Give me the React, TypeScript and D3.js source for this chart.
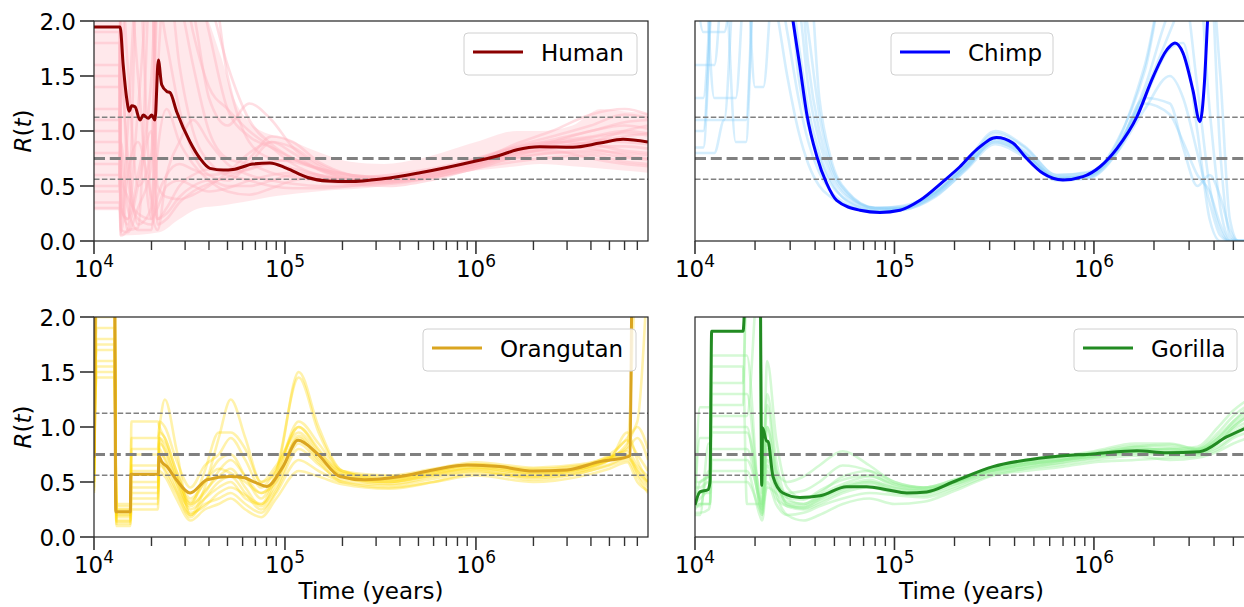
import React from 'react';
import * as d3 from 'd3';

// ---------- Data (years, R(t)) ----------
const humanMainT = [10000, 13700, 14220, 14820, 15300, 15750, 16400, 17410, 18130, 19250, 20050, 20860, 21720, 22620, 24040, 25000, 27100, 31850, 35910, 40470, 47540, 53430, 67980, 83400, 102300, 130300, 165900, 218800, 326000, 509000, 1e6, 1.336e6, 1.64e6, 2.16e6, 3.22e6, 4.46e6, 5.89e6, 7.96e6];
const humanMainR = [1.945, 1.945, 1.6, 1.3, 1.18, 1.23, 1.22, 1.1, 1.145, 1.115, 1.145, 1.1, 1.645, 1.42, 1.36, 1.35, 1.175, 0.9, 0.75, 0.66, 0.645, 0.65, 0.7, 0.71, 0.66, 0.58, 0.545, 0.54, 0.565, 0.62, 0.727, 0.78, 0.83, 0.857, 0.853, 0.89, 0.925, 0.9];
const humanBandT = [10000, 13500, 13700, 22000, 28000, 36000, 45700, 54000, 68000, 83000, 102000, 130000, 166000, 220000, 330000, 510000, 1e6, 1.64e6, 2.16e6, 3.2e6, 4.5e6, 5.9e6, 7.96e6];
const humanBandLo = [0.28, 0.28, 0.05, 0.08, 0.2, 0.3, 0.32, 0.34, 0.37, 0.4, 0.42, 0.44, 0.46, 0.47, 0.5, 0.55, 0.64, 0.68, 0.7, 0.68, 0.66, 0.64, 0.62];
const humanBandHi = [2.0, 2.0, 2.1, 2.1, 2.1, 2.1, 1.7, 1.3, 1.05, 0.97, 0.93, 0.85, 0.78, 0.72, 0.7, 0.75, 0.9, 1.0, 1.0, 1.05, 1.2, 1.18, 1.16];
const humanGridT = [10000, 13600, 13800, 15000, 17000, 20000, 21500, 24000, 28000, 33000, 40000, 50000, 65000, 85000, 110000, 150000, 220000, 350000, 600000, 1e6, 1.6e6, 2.5e6, 4e6, 6e6, 7.96e6];
const humanSamples = [
  [1.6, 1.6, 0.3, 0.2, 0.6, 1.5, 2.5, 2.5, 2.2, 1.6, 1.0, 0.75, 0.7, 0.62, 0.58, 0.55, 0.52, 0.55, 0.62, 0.7, 0.78, 0.85, 0.9, 0.95, 0.98],
  [0.9, 0.9, 1.2, 2.5, 2.5, 0.3, 0.1, 0.6, 0.9, 1.1, 0.9, 0.7, 0.6, 0.55, 0.52, 0.5, 0.5, 0.53, 0.6, 0.68, 0.75, 0.8, 0.82, 0.8, 0.78],
  [1.2, 1.2, 0.1, 0.08, 0.3, 0.7, 2.5, 2.5, 2.5, 2.5, 1.9, 1.2, 0.95, 0.85, 0.75, 0.65, 0.58, 0.6, 0.66, 0.75, 0.86, 0.95, 1.05, 1.15, 1.12],
  [0.5, 0.5, 2.5, 2.5, 1.5, 0.2, 0.3, 0.5, 0.55, 0.5, 0.45, 0.48, 0.55, 0.6, 0.62, 0.6, 0.56, 0.55, 0.6, 0.7, 0.8, 0.82, 0.75, 0.7, 0.68],
  [1.8, 1.8, 0.6, 0.4, 0.25, 0.2, 2.2, 1.8, 1.2, 0.8, 0.6, 0.55, 0.7, 0.9, 0.85, 0.7, 0.6, 0.58, 0.64, 0.72, 0.82, 0.88, 0.92, 0.9, 0.88],
  [0.35, 0.35, 0.2, 1.0, 2.5, 2.5, 0.5, 0.4, 0.38, 0.42, 0.5, 0.62, 0.8, 0.9, 0.8, 0.65, 0.55, 0.52, 0.58, 0.68, 0.8, 0.9, 1.0, 1.05, 1.02],
  [1.4, 1.4, 2.5, 2.5, 2.5, 2.5, 2.5, 2.5, 2.5, 2.1, 1.3, 1.05, 1.25, 1.1, 0.85, 0.68, 0.58, 0.56, 0.62, 0.73, 0.85, 0.9, 0.88, 0.82, 0.8],
  [0.7, 0.7, 0.05, 0.1, 0.5, 1.0, 0.2, 0.3, 0.5, 0.6, 0.65, 0.6, 0.55, 0.5, 0.48, 0.48, 0.5, 0.55, 0.63, 0.74, 0.84, 0.86, 0.9, 1.0, 1.05],
  [1.0, 1.0, 1.5, 0.8, 0.15, 0.3, 1.5, 2.5, 2.5, 2.5, 2.5, 1.5, 0.9, 0.75, 0.72, 0.66, 0.6, 0.57, 0.6, 0.72, 0.88, 1.0, 1.15, 1.2, 1.15],
  [0.6, 0.6, 0.9, 0.3, 0.1, 0.1, 0.8, 1.2, 0.9, 0.7, 0.55, 0.45, 0.42, 0.48, 0.55, 0.58, 0.56, 0.54, 0.58, 0.66, 0.76, 0.8, 0.8, 0.76, 0.74],
  [1.9, 1.9, 0.4, 0.15, 2.5, 2.5, 2.5, 2.5, 2.5, 1.9, 1.4, 1.2, 1.0, 0.85, 0.7, 0.6, 0.55, 0.56, 0.62, 0.72, 0.84, 0.92, 1.0, 1.08, 1.1],
  [0.45, 0.45, 1.8, 0.6, 0.2, 0.15, 0.4, 0.6, 0.7, 0.65, 0.6, 0.62, 0.75, 0.95, 0.9, 0.72, 0.6, 0.55, 0.6, 0.7, 0.8, 0.86, 0.84, 0.78, 0.75],
  [1.5, 1.5, 0.9, 0.1, 0.12, 2.5, 2.5, 2.5, 2.5, 2.5, 2.2, 1.6, 1.1, 0.88, 0.75, 0.66, 0.6, 0.58, 0.62, 0.7, 0.82, 0.9, 0.95, 1.0, 0.98],
  [0.3, 0.3, 0.08, 0.6, 0.9, 0.4, 0.2, 0.25, 0.4, 0.5, 0.55, 0.5, 0.5, 0.55, 0.6, 0.58, 0.52, 0.5, 0.56, 0.66, 0.72, 0.76, 0.78, 0.72, 0.7],
  [1.1, 1.1, 2.5, 1.6, 0.5, 0.8, 2.5, 2.5, 1.6, 1.0, 0.72, 0.62, 0.65, 0.72, 0.74, 0.66, 0.56, 0.55, 0.6, 0.7, 0.82, 0.88, 0.94, 0.98, 0.96],
  [0.8, 0.8, 0.3, 0.2, 1.2, 2.5, 0.15, 0.2, 0.35, 0.45, 0.52, 0.58, 0.66, 0.7, 0.66, 0.6, 0.54, 0.53, 0.58, 0.68, 0.78, 0.84, 0.86, 0.86, 0.84],
];

const chimpMainT = [28000, 31000, 33600, 36300, 40800, 45700, 51300, 67100, 84600, 106600, 134300, 175100, 212800, 258000, 325000, 392400, 460000, 555000, 699000, 881000, 1.072e6, 1.303e6, 1.643e6, 1.977e6, 2.324e6, 2.548e6, 2.794e6, 3.136e6, 3.398e6, 3.58e6, 3.71e6, 3.85e6];
const chimpMainR = [2.6, 2.0, 1.58, 1.16, 0.77, 0.525, 0.37, 0.28, 0.26, 0.28, 0.37, 0.54, 0.675, 0.83, 0.94, 0.89, 0.75, 0.615, 0.555, 0.585, 0.675, 0.84, 1.13, 1.49, 1.74, 1.8, 1.71, 1.37, 1.085, 1.44, 2.0, 2.6];
const chimpGridT = [10000, 11000, 12500, 14000, 16000, 18000, 20000, 22000, 25000, 29000, 33000, 37000, 42000, 48000, 58000, 80000, 110000, 160000, 230000, 320000, 450000, 650000, 950000, 1.3e6, 1.8e6, 2.4e6, 2.8e6, 3.3e6, 3.8e6, 4.3e6, 4.8e6, 5.3e6, 6e6];
const chimpSamples = [
  [1.6, 1.6, 1.6, 2.5, 2.5, 2.5, 2.5, 2.5, 2.5, 2.5, 1.8, 1.2, 0.8, 0.55, 0.36, 0.28, 0.3, 0.45, 0.7, 0.95, 0.8, 0.58, 0.6, 0.85, 1.4, 2.1, 2.3, 1.4, 0.5, 0.1, 0, 0, 0],
  [1.0, 1.0, 2.5, 2.5, 0.9, 0.9, 2.5, 2.5, 2.5, 2.5, 2.5, 1.6, 1.0, 0.65, 0.42, 0.3, 0.3, 0.42, 0.68, 0.9, 0.78, 0.56, 0.58, 0.8, 1.2, 1.5, 1.3, 0.8, 0.35, 0.05, 0, 0, 0],
  [2.5, 2.5, 1.3, 1.3, 1.3, 2.5, 2.5, 2.5, 2.5, 1.9, 1.3, 0.9, 0.62, 0.45, 0.33, 0.26, 0.28, 0.4, 0.66, 0.92, 0.82, 0.57, 0.6, 0.9, 1.55, 2.5, 2.5, 2.5, 1.2, 0.3, 0.02, 0, 0],
  [0.8, 0.8, 0.8, 1.1, 1.1, 1.1, 2.5, 2.5, 2.5, 2.5, 2.2, 1.4, 0.9, 0.6, 0.4, 0.3, 0.31, 0.44, 0.7, 0.98, 0.85, 0.6, 0.62, 0.82, 1.25, 1.15, 0.9, 0.6, 0.45, 0.15, 0, 0, 0],
  [1.3, 1.3, 2.5, 2.5, 2.5, 2.5, 1.4, 1.4, 2.5, 2.5, 2.5, 2.5, 1.3, 0.75, 0.45, 0.3, 0.29, 0.41, 0.65, 0.88, 0.76, 0.55, 0.57, 0.8, 1.3, 1.75, 1.8, 1.0, 0.2, 0, 0, 0, 0],
  [2.5, 1.9, 1.9, 1.9, 2.5, 2.5, 2.5, 2.5, 2.2, 1.5, 1.0, 0.7, 0.5, 0.4, 0.32, 0.27, 0.29, 0.43, 0.72, 1.0, 0.86, 0.6, 0.63, 0.88, 1.6, 2.5, 2.5, 2.5, 2.5, 0.8, 0.05, 0, 0],
  [1.1, 1.1, 1.1, 1.1, 2.5, 2.5, 2.5, 2.5, 2.5, 2.5, 1.5, 1.05, 0.75, 0.52, 0.37, 0.28, 0.3, 0.44, 0.69, 0.93, 0.8, 0.58, 0.6, 0.82, 1.3, 1.25, 0.85, 0.5, 0.6, 0.4, 0.1, 0, 0],
  [0.85, 0.85, 2.5, 2.5, 2.5, 2.5, 2.5, 2.5, 2.5, 2.5, 2.5, 1.9, 1.15, 0.7, 0.44, 0.3, 0.32, 0.44, 0.67, 0.9, 0.79, 0.57, 0.59, 0.84, 1.35, 1.9, 2.2, 2.5, 2.5, 1.5, 0.2, 0, 0],
];

const orangMainT = [10000, 10250, 12800, 13000, 15500, 15600, 21700, 21900, 22700, 24100, 27000, 31840, 39080, 51550, 60260, 71330, 80470, 97670, 117000, 147200, 194200, 260000, 400000, 596000, 897000, 1.336e6, 1.99e6, 2.99e6, 4.46e6, 6.25e6, 6.4e6, 6.6e6, 7.96e6];
const orangMainR = [0.72, 2.5, 2.5, 0.23, 0.23, 0.57, 0.57, 0.73, 0.68, 0.64, 0.52, 0.4, 0.52, 0.55, 0.54, 0.49, 0.46, 0.64, 0.88, 0.76, 0.55, 0.52, 0.55, 0.61, 0.655, 0.64, 0.6, 0.61, 0.685, 0.73, 0.74, 2.5, 2.5];
const orangGridT = [10000, 10300, 12800, 13100, 15500, 15700, 21600, 22000, 23500, 27000, 32000, 38000, 45000, 52000, 62000, 75000, 90000, 118000, 150000, 200000, 350000, 600000, 1e6, 2e6, 3.5e6, 5e6, 6.2e6, 7e6, 7.96e6];
const orangSamples = [
  [0.5, 2.5, 2.5, 0.12, 0.12, 0.9, 0.9, 1.0, 1.25, 0.8, 0.2, 0.45, 0.9, 1.25, 0.9, 0.5, 0.6, 1.5, 1.0, 0.6, 0.52, 0.58, 0.62, 0.55, 0.6, 0.7, 0.85, 1.0, 0.8],
  [0.6, 1.8, 1.8, 0.2, 0.2, 0.35, 0.35, 0.9, 0.85, 0.55, 0.25, 0.35, 0.45, 0.5, 0.35, 0.3, 0.55, 1.0, 0.8, 0.55, 0.48, 0.55, 0.6, 0.52, 0.58, 0.65, 0.7, 0.55, 0.4],
  [0.4, 1.6, 1.6, 0.25, 0.25, 0.6, 0.6, 0.8, 0.7, 0.5, 0.3, 0.6, 0.95, 0.95, 0.8, 0.5, 0.65, 0.95, 0.75, 0.58, 0.55, 0.6, 0.66, 0.62, 0.65, 0.75, 0.9, 1.05, 2.5],
  [0.7, 2.0, 2.0, 0.15, 0.15, 0.45, 0.45, 0.7, 0.6, 0.4, 0.2, 0.3, 0.35, 0.4, 0.3, 0.22, 0.4, 0.7, 0.6, 0.5, 0.45, 0.5, 0.56, 0.5, 0.55, 0.62, 0.68, 0.5, 0.42],
  [0.55, 1.5, 1.5, 0.3, 0.3, 1.05, 1.05, 1.0, 0.9, 0.6, 0.35, 0.5, 0.7, 0.75, 0.55, 0.35, 0.6, 1.45, 0.95, 0.6, 0.53, 0.6, 0.65, 0.58, 0.63, 0.72, 0.8, 0.9, 0.7],
  [0.45, 2.5, 2.5, 0.18, 0.18, 0.75, 0.75, 0.75, 0.72, 0.45, 0.28, 0.42, 0.55, 0.62, 0.45, 0.28, 0.5, 0.9, 0.7, 0.55, 0.5, 0.57, 0.63, 0.57, 0.6, 0.7, 0.75, 0.6, 0.5],
  [0.9, 1.7, 1.7, 0.1, 0.1, 0.25, 0.25, 0.6, 0.55, 0.35, 0.15, 0.25, 0.3, 0.35, 0.25, 0.18, 0.35, 0.6, 0.55, 0.48, 0.44, 0.5, 0.58, 0.55, 0.62, 0.7, 0.95, 0.7, 0.5],
  [0.5, 1.9, 1.9, 0.22, 0.22, 0.5, 0.5, 1.05, 1.0, 0.7, 0.45, 0.65, 0.75, 0.9, 0.7, 0.45, 0.62, 1.0, 0.78, 0.6, 0.56, 0.62, 0.68, 0.63, 0.66, 0.73, 0.82, 2.5, 2.5],
  [0.65, 1.45, 1.45, 0.28, 0.28, 0.8, 0.8, 0.95, 0.9, 0.6, 0.3, 0.4, 0.6, 0.7, 0.55, 0.4, 0.55, 1.05, 0.85, 0.58, 0.5, 0.58, 0.64, 0.6, 0.62, 0.72, 0.78, 0.65, 0.55],
  [0.42, 2.2, 2.2, 0.14, 0.14, 0.3, 0.3, 0.85, 0.8, 0.5, 0.22, 0.28, 0.4, 0.45, 0.38, 0.3, 0.45, 0.85, 0.68, 0.5, 0.47, 0.53, 0.6, 0.54, 0.58, 0.66, 0.72, 0.62, 0.48],
  [0.8, 1.75, 1.75, 0.25, 0.25, 0.65, 0.65, 0.9, 0.78, 0.55, 0.32, 0.5, 0.62, 0.58, 0.5, 0.4, 0.5, 0.92, 0.72, 0.56, 0.52, 0.6, 0.66, 0.6, 0.64, 0.72, 0.88, 0.75, 0.6],
  [0.5, 1.55, 1.55, 0.2, 0.2, 0.4, 0.4, 0.65, 0.62, 0.42, 0.18, 0.35, 0.5, 0.55, 0.4, 0.25, 0.42, 0.8, 0.66, 0.52, 0.5, 0.56, 0.62, 0.58, 0.62, 0.7, 0.74, 0.58, 0.45],
];

const gorillaMainT = [10000, 10590, 11620, 11890, 12120, 17410, 18170, 21190, 21600, 21840, 22880, 23210, 24600, 27600, 33600, 42340, 57600, 72500, 91400, 115200, 145000, 196300, 311700, 460000, 622900, 988000, 1.64e6, 2.32e6, 3.38e6, 4.62e6, 5.92e6];
const gorillaMainR = [0.29, 0.41, 0.43, 0.5, 1.87, 1.87, 2.5, 2.5, 0.47, 0.99, 0.87, 0.87, 0.55, 0.4, 0.36, 0.375, 0.457, 0.457, 0.43, 0.4, 0.41, 0.5, 0.64, 0.7, 0.73, 0.755, 0.785, 0.767, 0.776, 0.91, 1.0];
const gorillaGridT = [10000, 10600, 11700, 11900, 12100, 17400, 18200, 21100, 21700, 23000, 25500, 29000, 35000, 42000, 55000, 75000, 100000, 140000, 200000, 300000, 450000, 700000, 1e6, 1.6e6, 2.4e6, 3.3e6, 4.2e6, 5e6, 5.92e6];
const gorillaSamples = [
  [0.3, 0.5, 0.55, 0.6, 1.4, 1.4, 2.5, 2.5, 0.3, 1.2, 0.6, 0.3, 0.28, 0.35, 0.45, 0.5, 0.42, 0.4, 0.5, 0.62, 0.68, 0.72, 0.75, 0.8, 0.8, 0.82, 1.0, 1.15, 1.25],
  [0.25, 0.3, 0.3, 0.3, 0.8, 0.8, 0.8, 0.3, 0.2, 1.6, 0.9, 0.45, 0.35, 0.4, 0.55, 0.6, 0.5, 0.45, 0.52, 0.6, 0.64, 0.68, 0.72, 0.76, 0.74, 0.75, 0.85, 1.0, 1.1],
  [0.35, 1.18, 1.18, 1.18, 1.55, 1.55, 0.3, 0.3, 0.25, 0.8, 0.4, 0.2, 0.15, 0.2, 0.3, 0.35, 0.3, 0.32, 0.42, 0.55, 0.62, 0.68, 0.72, 0.78, 0.8, 0.78, 0.9, 1.05, 1.18],
  [0.4, 0.4, 0.4, 0.4, 1.1, 1.1, 1.1, 2.5, 0.4, 1.0, 0.6, 0.5, 0.55, 0.65, 0.78, 0.65, 0.5, 0.45, 0.5, 0.6, 0.66, 0.7, 0.74, 0.78, 0.77, 0.8, 0.95, 1.1, 1.2],
  [0.2, 0.2, 0.85, 0.85, 0.6, 0.6, 0.6, 0.2, 0.15, 0.5, 0.3, 0.2, 0.22, 0.28, 0.35, 0.4, 0.38, 0.36, 0.44, 0.56, 0.6, 0.64, 0.68, 0.7, 0.72, 0.74, 0.8, 0.9, 0.95],
  [0.3, 0.35, 0.45, 0.5, 1.2, 1.2, 2.5, 2.5, 0.5, 1.3, 0.7, 0.35, 0.3, 0.38, 0.48, 0.55, 0.48, 0.45, 0.52, 0.63, 0.7, 0.74, 0.78, 0.85, 0.85, 0.8, 0.88, 1.0, 1.1],
  [0.45, 0.45, 0.5, 0.5, 0.95, 0.95, 0.95, 0.4, 0.3, 0.7, 0.5, 0.4, 0.42, 0.5, 0.65, 0.6, 0.48, 0.44, 0.48, 0.58, 0.64, 0.7, 0.76, 0.8, 0.8, 0.76, 0.82, 0.92, 1.0],
  [0.3, 0.3, 0.3, 0.3, 0.5, 0.5, 0.5, 0.25, 0.2, 0.6, 0.35, 0.28, 0.25, 0.3, 0.4, 0.45, 0.4, 0.38, 0.46, 0.58, 0.62, 0.66, 0.7, 0.74, 0.7, 0.72, 0.78, 0.85, 0.9],
  [0.35, 0.9, 0.9, 0.9, 1.3, 1.3, 1.3, 0.35, 0.3, 1.0, 0.55, 0.3, 0.26, 0.32, 0.42, 0.48, 0.42, 0.4, 0.48, 0.6, 0.66, 0.7, 0.74, 0.82, 0.84, 0.8, 0.92, 1.05, 1.15],
  [0.28, 0.28, 0.6, 0.6, 1.0, 1.0, 1.0, 0.3, 0.25, 0.85, 0.5, 0.32, 0.3, 0.36, 0.46, 0.52, 0.44, 0.42, 0.5, 0.6, 0.66, 0.7, 0.75, 0.82, 0.78, 0.78, 0.86, 0.98, 1.05],
  [0.5, 0.5, 0.55, 0.55, 0.7, 0.7, 0.7, 0.35, 0.28, 0.45, 0.4, 0.28, 0.27, 0.34, 0.44, 0.5, 0.45, 0.42, 0.5, 0.62, 0.68, 0.73, 0.77, 0.83, 0.82, 0.79, 0.86, 0.95, 1.02],
  [0.22, 0.22, 0.25, 0.3, 1.65, 1.65, 1.65, 0.28, 0.22, 0.65, 0.45, 0.36, 0.34, 0.42, 0.52, 0.56, 0.46, 0.43, 0.5, 0.61, 0.67, 0.71, 0.73, 0.77, 0.76, 0.79, 0.9, 1.02, 1.12],
];

const species = ['Human', 'Chimp', 'Orangutan', 'Gorilla'];
const yTicks = [0, 0.5, 1.0, 1.5, 2.0];
const majorTicks = [1e4, 1e5, 1e6];
const refThin = [0.5625, 1.125];
const refThick = 0.75;

// ---------- Layout ----------
const FONT = 'DejaVu Sans, Verdana, sans-serif';
const FS = 23;

type Band = { t: number[]; lo: number[]; hi: number[] } | null;
type Panel = {
  name: string; mainT: number[]; mainR: number[]; gridT: number[]; samples: number[][]; band: Band;
  color: string; sampleColor: string; sampleOpacity: number;
  x0: number; x1: number; y0: number; y1: number; xMax: number;
  showY: boolean; showXLabel: boolean;
  legend: { x: number; y: number; w: number };
};

const panels: Panel[] = [
  { name: species[0], mainT: humanMainT, mainR: humanMainR, gridT: humanGridT, samples: humanSamples,
    band: { t: humanBandT, lo: humanBandLo, hi: humanBandHi },
    color: '#8B0000', sampleColor: '#FFB6C1', sampleOpacity: 0.45,
    x0: 94, x1: 648, y0: 21, y1: 241, xMax: 7.96e6, showY: true, showXLabel: false,
    legend: { x: 464, y: 33, w: 173 } },
  { name: species[1], mainT: chimpMainT, mainR: chimpMainR, gridT: chimpGridT, samples: chimpSamples, band: null,
    color: '#0000FF', sampleColor: '#87CEFA', sampleOpacity: 0.35,
    x0: 695, x1: 1248, y0: 21, y1: 241, xMax: 5.92e6, showY: false, showXLabel: false,
    legend: { x: 891, y: 33, w: 162 } },
  { name: species[2], mainT: orangMainT, mainR: orangMainR, gridT: orangGridT, samples: orangSamples, band: null,
    color: '#DAA520', sampleColor: '#FFD700', sampleOpacity: 0.33,
    x0: 94, x1: 648, y0: 317, y1: 537, xMax: 7.96e6, showY: true, showXLabel: true,
    legend: { x: 423, y: 329, w: 213 } },
  { name: species[3], mainT: gorillaMainT, mainR: gorillaMainR, gridT: gorillaGridT, samples: gorillaSamples, band: null,
    color: '#228B22', sampleColor: '#90EE90', sampleOpacity: 0.38,
    x0: 695, x1: 1248, y0: 317, y1: 537, xMax: 5.92e6, showY: false, showXLabel: true,
    legend: { x: 1074, y: 329, w: 163 } },
];

function PanelView({ p, idx }: { p: Panel; idx: number }) {
  const xs = d3.scaleLog().domain([1e4, p.xMax]).range([p.x0, p.x1]);
  const ys = d3.scaleLinear().domain([0, 2]).range([p.y1, p.y0]);
  const line = d3.line<[number, number]>()
    .x(d => xs(d[0]))
    .y(d => ys(d[1]))
    .curve(d3.curveMonotoneX);
  const area = d3.area<number>()
    .x(i => xs(p.band ? p.band.t[i] : 1e4))
    .y0(i => ys(p.band ? p.band.lo[i] : 0))
    .y1(i => ys(p.band ? p.band.hi[i] : 0))
    .curve(d3.curveMonotoneX);
  const clipId = `clip-${idx}`;
  const minor: number[] = [];
  for (const dec of [1e4, 1e5, 1e6]) {
    for (let k = 2; k <= 9; k++) {
      const v = dec * k;
      if (v <= p.xMax) minor.push(v);
    }
  }
  const mainPts = p.mainT.map((t, i) => [t, p.mainR[i]] as [number, number]);
  const lg = p.legend;
  const lgMid = lg.y + 20;
  const exps = ['4', '5', '6'];
  return (
    <g>
      <defs>
        <clipPath id={clipId}>
          <rect x={p.x0} y={p.y0} width={p.x1 - p.x0} height={p.y1 - p.y0} />
        </clipPath>
      </defs>
      <g clipPath={`url(#${clipId})`}>
        {p.band && (
          <path d={area(p.band.t.map((_, i) => i)) || ''} fill={p.sampleColor} fillOpacity={0.32} stroke="none" />
        )}
        {p.samples.map((s, i) => (
          <path key={i} d={line(p.gridT.map((t, j) => [t, s[j]] as [number, number])) || ''}
            fill="none" stroke={p.sampleColor} strokeOpacity={p.sampleOpacity} strokeWidth={2.6}
            strokeLinejoin="round" />
        ))}
        {refThin.map(r => (
          <line key={r} x1={p.x0} x2={p.x1} y1={ys(r)} y2={ys(r)} stroke="#808080" strokeWidth={1.5}
            strokeDasharray="5.5,2.4" />
        ))}
        <line x1={p.x0} x2={p.x1} y1={ys(refThick)} y2={ys(refThick)} stroke="#808080" strokeWidth={3}
          strokeDasharray="11,4.8" />
        <path d={line(mainPts) || ''} fill="none" stroke={p.color} strokeWidth={3} strokeLinejoin="round" />
      </g>
      {/* spines */}
      <rect x={p.x0} y={p.y0} width={p.x1 - p.x0} height={p.y1 - p.y0} fill="none" stroke="#222" strokeWidth={1.2} />
      {/* x ticks */}
      {majorTicks.map((t, i) => (
        <g key={t}>
          <line x1={xs(t)} x2={xs(t)} y1={p.y1} y2={p.y1 + 13} stroke="#333" strokeWidth={1.6} />
          <text x={xs(t)} y={p.y1 + 36} textAnchor="middle" fontFamily={FONT} fontSize={FS} fill="#000">
            10<tspan dy={-10} fontSize={17}>{exps[i]}</tspan>
          </text>
        </g>
      ))}
      {minor.map(t => (
        <line key={t} x1={xs(t)} x2={xs(t)} y1={p.y1} y2={p.y1 + 9} stroke="#333" strokeWidth={1.4} />
      ))}
      {/* y ticks */}
      {p.showY && yTicks.map(v => (
        <g key={v}>
          <line x1={p.x0 - 14} x2={p.x0} y1={ys(v)} y2={ys(v)} stroke="#333" strokeWidth={1.6} />
          <text x={p.x0 - 18} y={ys(v) + 9} textAnchor="end" fontFamily={FONT} fontSize={FS} fill="#000">
            {v.toFixed(1)}
          </text>
        </g>
      ))}
      {p.showY && (
        <text transform={`translate(31,${(p.y0 + p.y1) / 2}) rotate(-90)`} textAnchor="middle"
          fontFamily={FONT} fontSize={FS} fill="#000">
          <tspan fontStyle="italic">R</tspan>(<tspan fontStyle="italic">t</tspan>)
        </text>
      )}
      {p.showXLabel && (
        <text x={(p.x0 + p.x1) / 2} y={599} textAnchor="middle" fontFamily={FONT} fontSize={FS} fill="#000">
          Time (years)
        </text>
      )}
      {/* legend */}
      <rect x={lg.x} y={lg.y} width={lg.w} height={42} rx={4} ry={4} fill="#fff" fillOpacity={0.8}
        stroke="#d0d0d0" strokeWidth={1} />
      <line x1={lg.x + 9} x2={lg.x + 59} y1={lgMid - 1} y2={lgMid - 1} stroke={p.color} strokeWidth={3} />
      <text x={lg.x + 77} y={lgMid + 8} fontFamily={FONT} fontSize={FS} fill="#000">{p.name}</text>
    </g>
  );
}

export default function App() {
  return (
    <svg width={1244} height={607} viewBox="0 0 1244 607"
      style={{ position: 'absolute', left: 0, top: 0, background: '#fff' }}>
      <rect x={0} y={0} width={1244} height={607} fill="#fff" />
      {panels.map((p, i) => <PanelView key={p.name} p={p} idx={i} />)}
    </svg>
  );
}
